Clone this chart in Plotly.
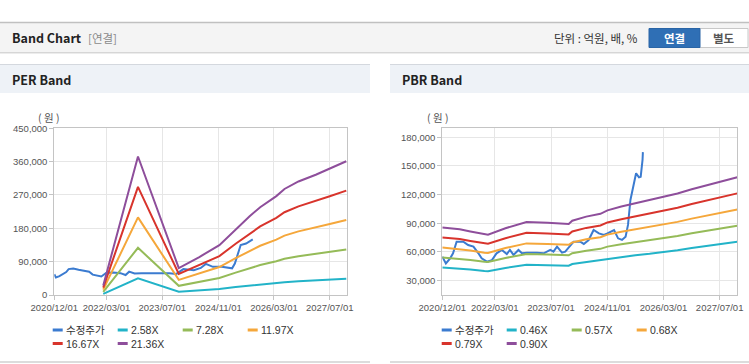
import plotly.graph_objects as go

W, H = 749, 364

# ---------------- data ----------------
tick_dates = ["2020-12-01", "2022-03-01", "2023-07-01", "2024-11-01", "2026-03-01", "2027-07-01"]
tick_labels = ["2020/12/01", "2022/03/01", "2023/07/01", "2024/11/01", "2026/03/01", "2027/07/01"]
x_range = ["2020-12-01", "2027-12-01"]

per_price_dates = ["2020-12-01", "2020-12-15", "2021-01-15", "2021-02-15", "2021-03-15", "2021-04-05",
                   "2021-05-15", "2021-07-01", "2021-09-01", "2021-10-01", "2021-11-01", "2021-12-15",
                   "2022-01-15", "2022-03-01", "2022-05-01", "2022-07-01", "2022-08-15", "2022-09-15",
                   "2022-11-01", "2023-01-01", "2023-04-01", "2023-07-01", "2023-09-01", "2023-11-01",
                   "2024-01-01", "2024-04-01", "2024-06-01", "2024-07-15", "2024-09-15", "2024-12-01",
                   "2025-02-01", "2025-03-01", "2025-03-25", "2025-04-18", "2025-05-15", "2025-07-01",
                   "2025-07-28", "2025-08-28"]
per_price = [55800, 47500, 51000, 57000, 62000, 70000,
             71500, 68000, 66000, 63000, 55000, 53000,
             50000, 60000, 61000, 59000, 54000, 63000,
             58000, 59000, 59000, 61000, 59000, 57000,
             70000, 67000, 73000, 84000, 76000, 76000,
             72000, 72000, 85000, 112000, 135000, 139000,
             144000, 150000]

per_band_dates = ["2022-02-01", "2022-12-01", "2023-11-22", "2024-05-19", "2024-11-10", "2025-04-01",
                  "2025-08-01", "2025-11-01", "2026-03-22", "2026-06-01", "2026-10-01", "2027-03-01",
                  "2027-07-01", "2027-11-22"]
per_band_names = ["2.58X", "7.28X", "11.97X", "16.67X", "21.36X"]
per_band_258 = [3100, 45200, 8800, 12400, 16300, 21400, 25700, 28600, 32300, 34600, 37000, 39200, 41300, 43600]
per_band_728 = [8700, 127400, 24800, 34900, 45900, 60400, 72400, 80800, 91000, 97600, 104500, 110700, 116500, 123000]
per_band_1197 = [14400, 209500, 40700, 57500, 75400, 99400, 119100, 132900, 149600, 160400, 171800, 181900, 191500, 202300]
per_band_1667 = [20000, 291700, 56700, 80000, 105000, 138400, 165900, 185000, 208400, 223400, 239200, 253400, 266700, 281700]
per_band_2136 = [25600, 373800, 72600, 102500, 134600, 177300, 212500, 237100, 267000, 286200, 306500, 324700, 341800, 361000]
per_y_ticks = [0, 90000, 180000, 270000, 360000, 450000]
per_y_range = [0, 450000]

pbr_price_dates = ["2020-12-01", "2021-01-01", "2021-02-07", "2021-03-04", "2021-04-04", "2021-06-01",
                   "2021-07-13", "2021-08-28", "2021-10-10", "2021-11-07", "2021-12-22", "2022-02-04",
                   "2022-03-16", "2022-05-01", "2022-06-13", "2022-07-10", "2022-08-10", "2022-09-22",
                   "2022-10-22", "2022-12-04", "2023-03-01", "2023-04-28", "2023-06-25", "2023-07-22",
                   "2023-08-22", "2023-10-04", "2023-11-01", "2024-01-13", "2024-03-10", "2024-04-10",
                   "2024-05-22", "2024-07-04", "2024-08-19", "2024-10-01", "2024-11-01", "2024-12-28",
                   "2025-02-01", "2025-03-07", "2025-04-07", "2025-04-28", "2025-05-19", "2025-06-19",
                   "2025-07-07", "2025-08-01", "2025-08-16", "2025-09-01", "2025-09-04"]
pbr_price = [55100, 48100, 53400, 58600, 70800, 70800,
             67300, 65600, 58600, 53400, 49900, 51500,
             58600, 62100, 57900, 62100, 56900, 62100,
             58600, 59300, 59300, 58600, 62100, 60400,
             65600, 59300, 60400, 70800, 70800, 68400,
             72500, 83000, 79500, 77800, 79500, 83000,
             74300, 72600, 76000, 88300, 114400, 131900,
             142300, 138100, 138800, 156300, 164500]

pbr_band_dates = ["2020-12-01", "2021-05-01", "2021-08-01", "2021-12-01", "2022-01-01", "2022-06-01",
                  "2022-12-01", "2023-06-01", "2023-12-01", "2024-01-01", "2024-05-01", "2024-09-01",
                  "2024-11-01", "2025-03-01", "2025-07-01", "2025-11-01", "2026-03-01", "2026-07-01",
                  "2026-11-01", "2027-03-01", "2027-07-01", "2027-12-01"]
pbr_band_names = ["0.46X", "0.57X", "0.68X", "0.79X", "0.90X"]
pbr_band_046 = [43800, 42800, 41600, 40100, 39900, 43300, 46700, 46200, 45600, 47400, 49600, 51100,
                52900, 54900, 56700, 58200, 59800, 61900, 64200, 66200, 68300, 70600]
pbr_band_057 = [54300, 53000, 51600, 49700, 49500, 53700, 57900, 57300, 56500, 58700, 61400, 63300,
                65600, 68100, 70200, 72100, 74100, 76700, 79500, 82100, 84600, 87500]
pbr_band_068 = [64700, 63200, 61500, 59300, 59000, 64100, 69000, 68300, 67500, 70000, 73300, 75500,
                78200, 81200, 83800, 86000, 88400, 91500, 94900, 97900, 101000, 104400]
pbr_band_079 = [75200, 73500, 71500, 68900, 68600, 74400, 80200, 79400, 78400, 81400, 85200, 87700,
                90900, 94300, 97300, 99900, 102700, 106300, 110200, 113800, 117300, 121300]
pbr_band_090 = [85700, 83700, 81500, 78500, 78100, 84800, 91400, 90500, 89300, 92700, 97000, 99900,
                103500, 107500, 110900, 113900, 117000, 121100, 125600, 129600, 133700, 138200]
pbr_y_ticks = [30000, 60000, 90000, 120000, 150000, 180000]
pbr_y_range = [15000, 189400]

price_name = "수정주가"
price_color = "#3b7bd0"
band_colors = ["#22b3c8", "#95bb58", "#f5a73b", "#d8342c", "#8e4e9b"]

# ---------------- helpers (pixel -> paper) ----------------
def px(x):
    return x / W

def py(y):
    return 1 - y / H

TICK_FONT = dict(family="Liberation Sans, Noto Sans CJK KR, sans-serif", size=9.5, color="#555555")
KFONT = "Noto Sans CJK KR, Liberation Sans, sans-serif"
LFONT = "Liberation Sans, Noto Sans CJK KR, sans-serif"

fig = go.Figure()

per_bands = [per_band_258, per_band_728, per_band_1197, per_band_1667, per_band_2136]
pbr_bands = [pbr_band_046, pbr_band_057, pbr_band_068, pbr_band_079, pbr_band_090]

fig.add_trace(go.Scatter(x=per_price_dates, y=per_price, mode="lines", name=price_name,
                         line=dict(color=price_color, width=2), xaxis="x", yaxis="y", showlegend=False))
for name, vals, col in zip(per_band_names, per_bands, band_colors):
    fig.add_trace(go.Scatter(x=per_band_dates, y=vals, mode="lines", name=name,
                             line=dict(color=col, width=2), xaxis="x", yaxis="y", showlegend=False))

fig.add_trace(go.Scatter(x=pbr_price_dates, y=pbr_price, mode="lines", name=price_name,
                         line=dict(color=price_color, width=2), xaxis="x2", yaxis="y2", showlegend=False))
for name, vals, col in zip(pbr_band_names, pbr_bands, band_colors):
    fig.add_trace(go.Scatter(x=pbr_band_dates, y=vals, mode="lines", name=name,
                             line=dict(color=col, width=2), xaxis="x2", yaxis="y2", showlegend=False))

y_dom = [py(295), py(128.3)]
xcommon = dict(type="date", range=x_range, tickvals=tick_dates, ticktext=tick_labels, automargin=False,
               showgrid=True, gridcolor="#e6e6e6", gridwidth=1, showline=True, linecolor="#c4c4c4",
               linewidth=1, mirror=True, ticks="outside", ticklen=4, tickcolor="#c4c4c4",
               tickfont=TICK_FONT, zeroline=False, fixedrange=True)
ycommon = dict(showgrid=True, gridcolor="#e6e6e6", gridwidth=1, showline=True, linecolor="#c4c4c4",
               linewidth=1, mirror=True, ticks="outside", ticklen=4, tickcolor="#c4c4c4", automargin=False,
               tickfont=TICK_FONT, tickformat=",d", zeroline=False, fixedrange=True)

fig.update_layout(
    width=W, height=H, autosize=False,
    margin=dict(l=0, r=0, t=0, b=0, pad=0),
    paper_bgcolor="white", plot_bgcolor="white",
    xaxis=dict(domain=[px(54.3), px(347.3)], anchor="y", **xcommon),
    yaxis=dict(domain=y_dom, anchor="x", range=per_y_range, tickvals=per_y_ticks, **ycommon),
    xaxis2=dict(domain=[px(442.3), px(737.3)], anchor="y2", **xcommon),
    yaxis2=dict(domain=y_dom, anchor="x2", range=pbr_y_range, tickvals=pbr_y_ticks, **ycommon),
    showlegend=False,
)

shapes = []
annotations = []

def rect(x0, y0, x1, y1, fill, line_color=None, lw=0, layer="below"):
    shapes.append(dict(type="rect", xref="paper", yref="paper", x0=px(x0), x1=px(x1), y0=py(y1), y1=py(y0),
                       fillcolor=fill, line=dict(color=line_color or fill, width=lw), layer=layer))

def hline(x0, x1, y, color, w=1):
    shapes.append(dict(type="line", xref="paper", yref="paper", x0=px(x0), x1=px(x1), y0=py(y), y1=py(y),
                       line=dict(color=color, width=w), layer="below"))

def text(x, y, s, size=12, color="#333", bold=False, xanchor="left", family=KFONT, pad=1):
    annotations.append(dict(xref="paper", yref="paper", x=px(x), y=py(y), text=("<b>%s</b>" % s) if bold else s,
                            showarrow=False, xanchor=xanchor, yanchor="middle", borderpad=pad,
                            font=dict(family=family, size=size, color=color)))

# top header bar
rect(0, 22, 749, 52, "#f4f4f4")
hline(0, 749, 22.5, "#c0c0c0", 1.5)
hline(0, 749, 52.5, "#d6d6d6", 1)
hline(0, 749, 53.5, "#ececec", 1)
text(10, 38, "Band Chart", size=12.5, color="#222", bold=True)
text(86, 38, "[연결]", size=11.5, color="#8a8a8a")
text(552, 38, "단위 : 억원, 배, %", size=11.5, color="#333")
# buttons
rect(699, 28.5, 748, 47.5, "#ffffff", "#c8c8c8", 1)
rect(649, 28.5, 700, 47.5, "#2f6fb5", "#2a65a6", 1)
text(674.5, 38, "연결", size=11.5, color="#ffffff", bold=True, xanchor="center")
text(724, 38, "별도", size=11.5, color="#555555", bold=True, xanchor="center")

# panel headers
for x0, x1, title in [(0, 370, "PER Band"), (390, 749, "PBR Band")]:
    rect(x0, 64, x1, 93, "#eef2f7")
    hline(x0, x1, 64.5, "#d4d8de", 1)
    hline(x0, x1, 362, "#d0d0d0", 1.5)
    text(x0 + 10, 79.5, title, size=12.5, color="#222", bold=True)

# units
text(48, 118, "( 원 )", size=10.5, color="#555", xanchor="center")
text(437.5, 118, "( 원 )", size=10.5, color="#555", xanchor="center")

# custom legends built from the series names/colours
def legend(x_start, names, colors):
    for i, (nm, col) in enumerate(zip(names, colors)):
        row, colm = divmod(i, 4)
        lx = x_start + colm * 65
        ly = 330 + row * 13.5
        shapes.append(dict(type="line", xref="paper", yref="paper", x0=px(lx), x1=px(lx + 10),
                           y0=py(ly), y1=py(ly), line=dict(color=col, width=3)))
        text(lx + 12.5, ly, nm, size=10.5, color="#333", family=LFONT, pad=0)

legend(52.7, [price_name] + per_band_names, [price_color] + band_colors)
legend(441.7, [price_name] + pbr_band_names, [price_color] + band_colors)

fig.update_layout(shapes=shapes, annotations=annotations)
fig.write_html("out.html", config={"displayModeBar": False, "staticPlot": True},
               post_script="document.body.style.margin='0';document.body.style.overflow='hidden';")
